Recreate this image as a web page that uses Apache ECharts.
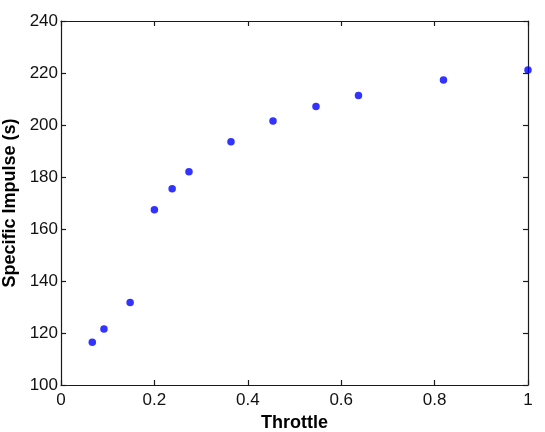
<!DOCTYPE html>
<html><head><meta charset="utf-8">
<script src="https://cdn.jsdelivr.net/npm/echarts@6/dist/echarts.min.js"></script>
<style>html,body{margin:0;padding:0;background:#fff}#c{width:545px;height:432px}</style>
</head><body><div id="c"></div>
<script>
const throttle = [0.067, 0.092, 0.148, 0.200, 0.238, 0.274, 0.364, 0.454, 0.546, 0.637, 0.819, 1.0];
const isp = [116.4, 121.5, 131.7, 167.4, 175.5, 182.0, 193.6, 201.5, 207.1, 211.3, 217.3, 221.2];
const xTicks = [0, 0.2, 0.4, 0.6, 0.8, 1];
const yTicks = [100, 120, 140, 160, 180, 200, 220, 240];
const xTitle = 'Throttle';
const yTitle = 'Specific Impulse (s)';

const font = 'Liberation Sans, Arial, Helvetica, sans-serif';
const axisLine = () => ({show: true, onZero: false, lineStyle: {color: '#1a1a1a', width: 1.2}});
const tick = () => ({show: true, inside: true, length: 5, lineStyle: {color: '#1a1a1a', width: 1.2}});
const xBase = {type: 'value', min: 0, max: 1, interval: 0.2};
const yBase = {type: 'value', min: 100, max: 240, interval: 20};
const chart = echarts.init(document.getElementById('c'), null, {renderer: 'canvas'});
chart.setOption({
  animation: false,
  backgroundColor: '#fff',
  grid: {left: 61, right: 17, top: 21, bottom: 47, containLabel: false, outerBoundsMode: 'none'},
  xAxis: [Object.assign({}, xBase, {
    position: 'bottom',
    axisLine: axisLine(), axisTick: tick(), splitLine: {show: false},
    axisLabel: {color: '#111', fontSize: 17, fontFamily: font, margin: 7,
      formatter: v => xTicks.includes(+v.toFixed(1)) ? String(+v.toFixed(1)) : ''},
    name: xTitle, nameLocation: 'middle', nameGap: 23,
    nameTextStyle: {color: '#000', fontSize: 18, fontWeight: 'bold', fontFamily: font}
  }), Object.assign({}, xBase, {position: 'top', axisLine: axisLine(), axisTick: tick(),
    axisLabel: {show: false}, splitLine: {show: false}})],
  yAxis: [Object.assign({}, yBase, {
    position: 'left',
    axisLine: axisLine(), axisTick: tick(), splitLine: {show: false},
    axisLabel: {color: '#111', fontSize: 17, fontFamily: font, margin: 3,
      formatter: v => yTicks.includes(v) ? String(v) : ''},
    name: yTitle, nameLocation: 'middle', nameGap: 36,
    nameTextStyle: {color: '#000', fontSize: 18, fontWeight: 'bold', fontFamily: font}
  }), Object.assign({}, yBase, {position: 'right', axisLine: axisLine(), axisTick: tick(),
    axisLabel: {show: false}, splitLine: {show: false}})],
  series: [{
    type: 'scatter', xAxisIndex: 0, yAxisIndex: 0,
    data: throttle.map((x, i) => [x, isp[i]]),
    symbol: 'circle', symbolSize: 7.5,
    itemStyle: {color: '#0000ff'}
  }]
});
</script></body></html>
